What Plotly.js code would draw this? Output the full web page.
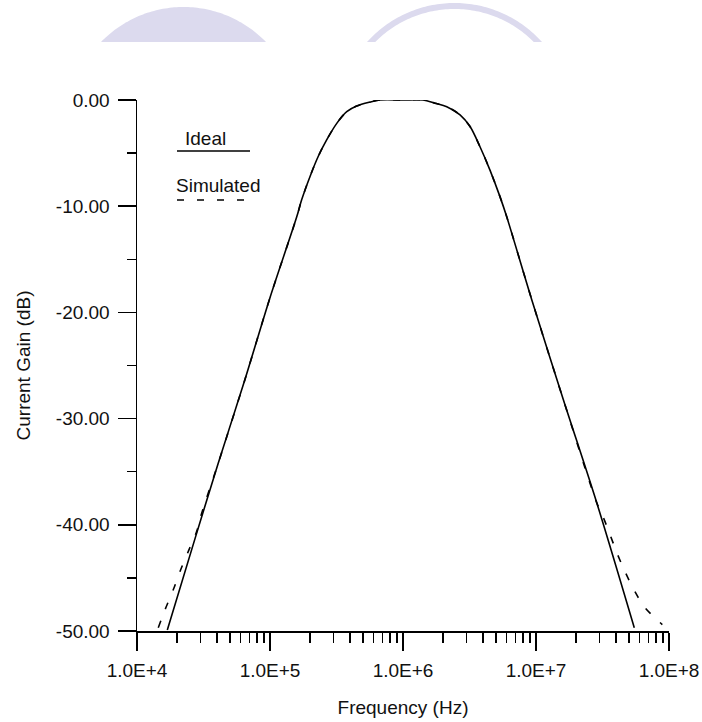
<!DOCTYPE html>
<html>
<head>
<meta charset="utf-8">
<script src="https://cdn.plot.ly/plotly-3.0.1.min.js"></script>
<style>
  html, body { margin: 0; padding: 0; background: #ffffff; }
  #chart { width: 702px; height: 722px; }
</style>
</head>
<body>
<div id="chart"></div>
<script>
// ---- Data ----
const idealFreq = [16900, 27300, 40800, 64900, 98900, 158900, 173000, 200000, 230700, 266700,
  317700, 377600, 448700, 564900, 671400, 1000000, 1413000, 1742000, 2133000, 2685000,
  3192000, 3793000, 4508000, 5358000, 6026000, 9290000, 16040000, 28580000, 54830000];
const idealGain = [-49.9, -41.3, -34.2, -26.3, -18.8, -11.0, -9.4, -7.2, -5.3, -3.76,
  -2.2, -1.1, -0.57, -0.2, 0, 0, 0, -0.3, -0.63, -1.4,
  -2.5, -4.4, -6.6, -9.1, -11.0, -18.8, -28.2, -37.9, -49.7];

const simFreq = [14450, 16250, 18760, 21050, 24310, 28120, 30650, 40800, 64900, 98900,
  158900, 173000, 200000, 230700, 266700, 317700, 377600, 448700, 564900, 671400,
  1000000, 1413000, 1742000, 2133000, 2685000, 3192000, 3793000, 4508000, 5358000, 6026000,
  9290000, 16040000, 28580000, 32060000, 35970000, 40450000, 46670000, 55460000, 66000000, 85600000, 89100000];
const simGain = [-49.7, -48.0, -46.1, -44.4, -42.5, -40.6, -38.9, -34.2, -26.3, -18.8,
  -11.0, -9.4, -7.2, -5.3, -3.76, -2.2, -1.1, -0.57, -0.2, 0,
  0, 0, -0.3, -0.63, -1.4, -2.5, -4.4, -6.6, -9.1, -11.0,
  -18.8, -28.2, -37.9, -39.3, -40.9, -42.6, -44.4, -46.3, -47.8, -49.2, -49.4];

const xTickVals = [1e4, 1e5, 1e6, 1e7, 1e8];
const xTickText = ["1.0E+4", "1.0E+5", "1.0E+6", "1.0E+7", "1.0E+8"];
const yTickVals = [0, -10, -20, -30, -40, -50];
const yTickText = ["0.00", "-10.00", "-20.00", "-30.00", "-40.00", "-50.00"];

const seriesNames = ["Ideal", "Simulated"];

// ---- Layout helpers (pixel -> paper) ----
const M = { l: 137, r: 33, t: 100, b: 91 };
const W = 702, H = 722;
const PW = W - M.l - M.r, PH = H - M.t - M.b;
const PX = px => (px - M.l) / PW;
const PY = py => (H - M.b - py) / PH;

function domePath(cx, cy, r, clipY, n) {
  const d = cy - clipY;
  const half = Math.sqrt(r * r - d * d);
  const a0 = Math.atan2(d, half);
  let s = "";
  for (let i = 0; i <= n; i++) {
    const a = a0 + (Math.PI - 2 * a0) * i / n;
    const x = cx + r * Math.cos(a), y = cy - r * Math.sin(a);
    s += (i === 0 ? "M" : "L") + PX(x).toFixed(5) + "," + PY(y).toFixed(5);
  }
  return s + "Z";
}
function ringPath(cx, cy, R, r, clipY, n) {
  const pts = [];
  const dO = cy - clipY, aO = Math.atan2(dO, Math.sqrt(R * R - dO * dO));
  for (let i = 0; i <= n; i++) {
    const a = aO + (Math.PI - 2 * aO) * i / n;
    pts.push([cx + R * Math.cos(a), cy - R * Math.sin(a)]);
  }
  const dI = cy - clipY, aI = Math.atan2(dI, Math.sqrt(r * r - dI * dI));
  for (let i = n; i >= 0; i--) {
    const a = aI + (Math.PI - 2 * aI) * i / n;
    pts.push([cx + r * Math.cos(a), cy - r * Math.sin(a)]);
  }
  return pts.map((p, i) => (i === 0 ? "M" : "L") + PX(p[0]).toFixed(5) + "," + PY(p[1]).toFixed(5)).join("") + "Z";
}

const FONT = "Liberation Sans, Arial, Helvetica, sans-serif";
const FS = 19;
const lav = "#dcdaee";

const data = [
  { x: idealFreq, y: idealGain, type: "scatter", mode: "lines", name: seriesNames[0],
    line: { color: "#000", width: 1.6, shape: "spline", smoothing: 0.9 } },
  { x: simFreq, y: simGain, type: "scatter", mode: "lines", name: seriesNames[1],
    line: { color: "#000", width: 1.6, dash: "7px,13px", shape: "spline", smoothing: 0.9 } }
];

const layout = {
  width: W, height: H,
  margin: M,
  paper_bgcolor: "#ffffff", plot_bgcolor: "#ffffff",
  showlegend: false,
  font: { family: FONT, size: FS, color: "#111" },
  xaxis: {
    type: "log", range: [4, 8],
    tickmode: "array", tickvals: xTickVals, ticktext: xTickText,
    ticks: "outside", ticklen: 18, tickwidth: 1.5, tickcolor: "#000",
    ticklabelstandoff: 4,
    minor: { ticks: "outside", ticklen: 10, tickwidth: 1.5, tickcolor: "#000", dtick: "D1", showgrid: false },
    showline: true, linecolor: "#000", linewidth: 1.5,
    showgrid: false, zeroline: false,
    tickfont: { family: FONT, size: FS, color: "#111" },
    title: { text: "Frequency (Hz)", font: { family: FONT, size: FS, color: "#111" }, standoff: 20 }
  },
  yaxis: {
    range: [-50, 0],
    tickmode: "array", tickvals: yTickVals, ticktext: yTickText,
    ticks: "outside", ticklen: 18, tickwidth: 1.5, tickcolor: "#000",
    ticklabelstandoff: 4,
    minor: { ticks: "outside", ticklen: 9, tickwidth: 1.5, tickcolor: "#000", dtick: 5, showgrid: false },
    showline: true, linecolor: "#000", linewidth: 1.5,
    showgrid: false, zeroline: false,
    tickfont: { family: FONT, size: FS, color: "#111" },
    title: { text: "Current Gain (dB)", font: { family: FONT, size: FS, color: "#111" }, standoff: 20 }
  },
  shapes: [
    { type: "path", xref: "paper", yref: "paper", path: domePath(183.5, 121.7, 114.7, 42, 80),
      fillcolor: lav, line: { width: 0 } },
    { type: "path", xref: "paper", yref: "paper", path: ringPath(454.5, 120.7, 117.7, 111.7, 42, 80),
      fillcolor: lav, line: { width: 0 } },
    { type: "line", xref: "paper", yref: "paper", x0: PX(177), x1: PX(250), y0: PY(151), y1: PY(151),
      line: { color: "#000", width: 1.6 } },
    { type: "line", xref: "paper", yref: "paper", x0: PX(177), x1: PX(250), y0: PY(200), y1: PY(200),
      line: { color: "#000", width: 1.6, dash: "7px,13px" } }
  ],
  annotations: [
    { xref: "paper", yref: "paper", x: PX(183), y: PY(138), xanchor: "left", yanchor: "middle",
      text: seriesNames[0], showarrow: false, font: { family: FONT, size: FS, color: "#111" } },
    { xref: "paper", yref: "paper", x: PX(174), y: PY(185), xanchor: "left", yanchor: "middle",
      text: seriesNames[1], showarrow: false, font: { family: FONT, size: FS, color: "#111" } }
  ]
};

Plotly.newPlot("chart", data, layout, { staticPlot: true, displayModeBar: false });
</script>
</body>
</html>
